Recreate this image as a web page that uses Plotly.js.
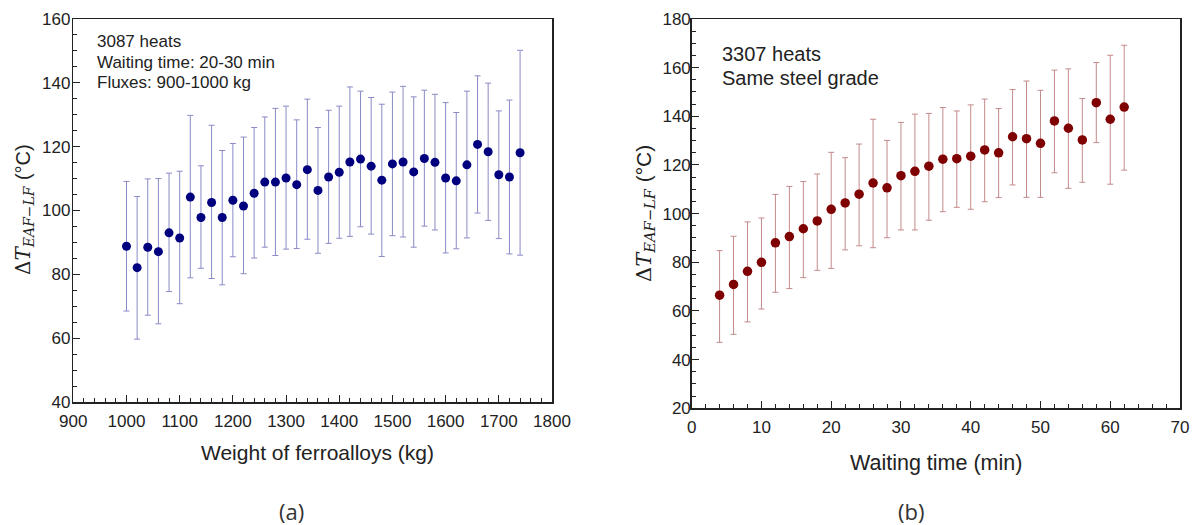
<!DOCTYPE html>
<html><head><meta charset="utf-8">
<script src="https://cdn.plot.ly/plotly-3.0.1.min.js"></script>
<style>body{margin:0;background:#fff}#c{width:1197px;height:525px}</style>
</head><body><div id="c"></div>
<script>
// (a) Weight of ferroalloys
const weightKg = [1000,1020,1040,1060,1080,1100,1120,1140,1160,1180,1200,1220,1240,1260,1280,1300,1320,1340,1360,1380,1400,1420,1440,1460,1480,1500,1520,1540,1560,1580,1600,1620,1640,1660,1680,1700,1720,1740];
const dTmeanA  = [88.8,82.1,88.5,87.1,93.0,91.4,104.2,97.8,102.5,97.8,103.2,101.4,105.4,108.9,108.9,110.2,108.1,112.8,106.3,110.5,112.0,115.2,116.1,113.9,109.5,114.6,115.2,112.1,116.3,115.1,110.2,109.3,114.3,120.7,118.4,111.2,110.5,118.1];
const dTupperA = [109.1,104.4,109.9,110.0,111.7,112.3,129.8,114.0,126.7,118.8,121.0,123.0,126.0,129.3,132.0,132.7,128.4,134.9,126.0,131.4,132.7,138.7,137.4,135.4,133.3,137.1,138.9,135.6,137.7,136.4,133.8,130.7,137.4,142.2,139.9,131.2,134.6,150.2];
const dTlowerA = [68.5,59.7,67.2,64.5,74.6,70.8,78.9,81.9,78.7,76.7,85.5,80.2,85.1,88.5,85.9,87.9,88.1,91.0,86.6,89.7,91.3,91.9,94.9,92.6,85.6,92.1,91.7,88.5,95.1,93.9,86.7,88.0,91.4,99.2,96.9,91.2,86.4,86.0];
// (b) Waiting time
const waitMin  = [4,6,8,10,12,14,16,18,20,22,24,26,28,30,32,34,36,38,40,42,44,46,48,50,52,54,56,58,60,62];
const dTmeanB  = [66.5,70.9,76.3,80.0,88.0,90.6,93.8,97.0,101.8,104.4,108.0,112.6,110.6,115.6,117.4,119.5,122.4,122.6,123.6,126.2,125.0,131.6,130.8,128.9,138.1,135.1,130.3,145.6,138.8,143.8];
const dTupperB = [84.8,90.7,96.6,98.2,107.9,111.2,113.2,116.3,125.2,123.0,128.6,138.8,130.1,137.5,140.9,141.2,143.6,142.2,144.7,147.1,143.2,151.0,154.5,150.7,159.0,159.5,147.3,162.1,165.1,169.2];
const dTlowerB = [47.1,50.4,55.5,60.8,67.7,69.2,73.7,76.7,77.5,85.1,86.8,86.0,90.1,93.3,93.3,97.3,100.8,102.6,101.8,104.9,106.6,111.8,106.7,106.7,116.8,110.4,112.9,129.2,112.1,117.9];

const yTitle = 'Δ<i>T</i><sub><i>EAF−LF</i></sub> <span style="font-family:Liberation Sans">(°C)</span>';
const infoA = ['3087 heats', 'Waiting time: 20-30 min', 'Fluxes: 900-1000 kg'];
const infoB = ['3307 heats', 'Same steel grade'];

const traces = [
  {x: weightKg, y: dTmeanA, type:'scatter', mode:'markers', xaxis:'x', yaxis:'y',
   marker:{color:'#00007f', size:9},
   error_y:{type:'data', symmetric:false,
     array: dTupperA.map((u,i)=>u-dTmeanA[i]),
     arrayminus: dTmeanA.map((m,i)=>m-dTlowerA[i]),
     color:'#8a8ac8', thickness:1, width:3}},
  {x: waitMin, y: dTmeanB, type:'scatter', mode:'markers', xaxis:'x2', yaxis:'y2',
   marker:{color:'#7f0000', size:9.5},
   error_y:{type:'data', symmetric:false,
     array: dTupperB.map((u,i)=>u-dTmeanB[i]),
     arrayminus: dTmeanB.map((m,i)=>m-dTlowerB[i]),
     color:'#c48a8a', thickness:1, width:3}}
];

const tf = {family:'Liberation Sans, Arial, sans-serif', size:17, color:'#222'};
const axBase = {showline:true, linecolor:'#222', linewidth:1.5, mirror:true, ticks:'inside',
  ticklen:7, tickcolor:'#222', tickwidth:1, showgrid:false, zeroline:false, tickfont:tf};

const W = 1197, H = 525;
const px = v => v / W, py = v => 1 - v / H;
const sans = (s) => ({family:'Liberation Sans, Arial, sans-serif', size:s, color:'#222'});

const annotations = [];
infoA.forEach((t, i) => annotations.push({xref:'paper', yref:'paper', x:px(95), y:py(41 + i*21),
  xanchor:'left', yanchor:'middle', showarrow:false, text:t, font:sans(17)}));
infoB.forEach((t, i) => annotations.push({xref:'paper', yref:'paper', x:px(720), y:py(54 + i*24),
  xanchor:'left', yanchor:'middle', showarrow:false, text:t, font:sans(20)}));
annotations.push(
  {xref:'paper', yref:'paper', x:px(317), y:py(452), xanchor:'center', yanchor:'middle', showarrow:false,
   text:'Weight of ferroalloys (kg)', font:sans(21)},
  {xref:'paper', yref:'paper', x:px(936), y:py(463), xanchor:'center', yanchor:'middle', showarrow:false,
   text:'Waiting time (min)', font:sans(21.5)},
  {xref:'paper', yref:'paper', x:px(24), y:py(210), xanchor:'center', yanchor:'middle', showarrow:false,
   textangle:-90, text:yTitle, font:{family:'DejaVu Serif, serif', size:20, color:'#222'}},
  {xref:'paper', yref:'paper', x:px(645), y:py(214), xanchor:'center', yanchor:'middle', showarrow:false,
   textangle:-90, text:yTitle, font:{family:'DejaVu Serif, serif', size:21, color:'#222'}},
  {xref:'paper', yref:'paper', x:px(291), y:py(511), xanchor:'center', yanchor:'middle', showarrow:false,
   text:'(a)', font:{family:'Open Sans, sans-serif', size:22, color:'#333'}},
  {xref:'paper', yref:'paper', x:px(911), y:py(511), xanchor:'center', yanchor:'middle', showarrow:false,
   text:'(b)', font:{family:'Open Sans, sans-serif', size:22, color:'#333'}}
);

const layout = {
  width:W, height:H, margin:{l:0,r:0,t:0,b:0},
  paper_bgcolor:'#fff', plot_bgcolor:'#fff', showlegend:false,
  xaxis: Object.assign({}, axBase, {domain:[px(73.3),px(552)], range:[900,1800], dtick:100, tick0:900,
    ticklabelstandoff:3,
    minor:{dtick:20, ticks:'inside', ticklen:4, tickcolor:'#222'}, anchor:'y'}),
  yaxis: Object.assign({}, axBase, {domain:[1-402/H, 1-19/H], range:[40,160], dtick:20,
    ticklabelstandoff:-2,
    minor:{dtick:5, ticks:'inside', ticklen:4, tickcolor:'#222'}, anchor:'x'}),
  xaxis2: Object.assign({}, axBase, {domain:[px(691.7),px(1180)], range:[0,70], dtick:10,
    ticklabelstandoff:3,
    minor:{dtick:2, ticks:'inside', ticklen:4, tickcolor:'#222'}, anchor:'y2'}),
  yaxis2: Object.assign({}, axBase, {domain:[1-408.3/H, 1-19/H], range:[20,180], dtick:20,
    ticklabelstandoff:-4,
    minor:{dtick:5, ticks:'inside', ticklen:4, tickcolor:'#222'}, anchor:'x2'}),
  annotations: annotations
};
Plotly.newPlot('c', traces, layout, {staticPlot:true, displayModeBar:false});
</script></body></html>
